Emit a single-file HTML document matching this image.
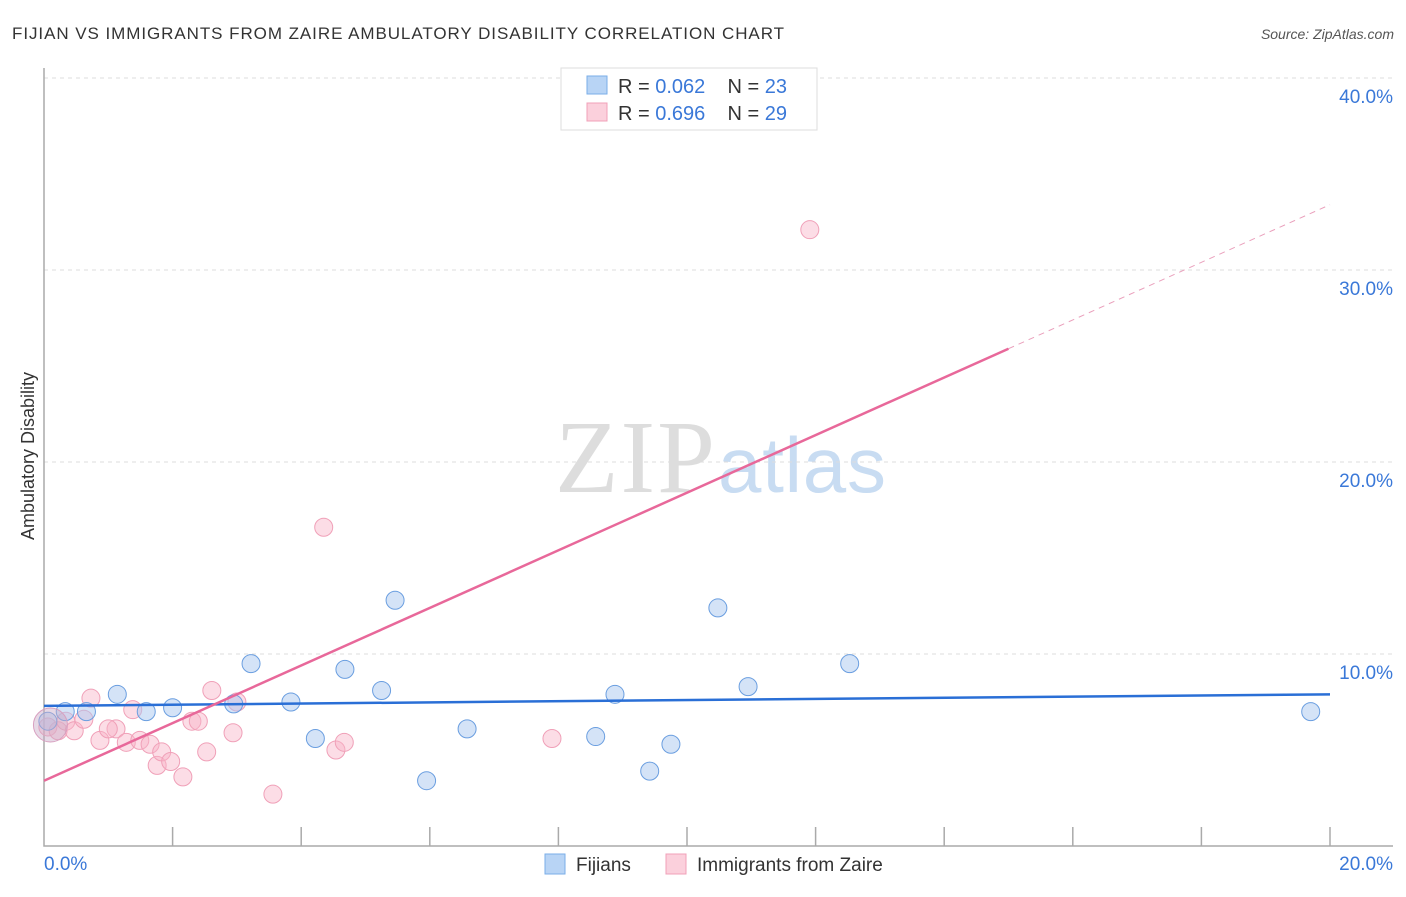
<!DOCTYPE html>
<html><head><meta charset="utf-8"><style>
body{margin:0;background:#fff;font-family:"Liberation Sans",sans-serif}
svg text{font-family:"Liberation Sans",sans-serif}
</style></head><body>
<svg width="1406" height="892" xmlns="http://www.w3.org/2000/svg">
<text x="12" y="39" font-size="17" fill="#333" textLength="772">FIJIAN VS IMMIGRANTS FROM ZAIRE AMBULATORY DISABILITY CORRELATION CHART</text>
<text x="1394" y="39" font-size="14" fill="#555" font-style="italic" text-anchor="end">Source: ZipAtlas.com</text>
<text x="555" y="492" font-size="104" fill="#ddd" textLength="160" style="font-family:'Liberation Serif',serif">ZIP</text>
<text x="718" y="492" font-size="78" fill="#c8dcf2" textLength="168">atlas</text>
<g id="grid"></g>
<g id="axes"></g>
<g id="marks"></g>
<text transform="translate(34,456) rotate(-90)" font-size="18" fill="#333" text-anchor="middle">Ambulatory Disability</text>
<g>
<rect x="561" y="68" width="256" height="62" fill="#fff" stroke="#ddd"/>
<rect x="587" y="76" width="20" height="18" fill="#b8d4f5" stroke="#7aaee8"/>
<text x="618" y="93" font-size="20" fill="#333" xml:space="preserve">R = <tspan fill="#3a78d8">0.062</tspan>    N = <tspan fill="#3a78d8">23</tspan></text>
<rect x="587" y="103" width="20" height="18" fill="#fbd0dc" stroke="#f0a0b8"/>
<text x="618" y="120" font-size="20" fill="#333" xml:space="preserve">R = <tspan fill="#3a78d8">0.696</tspan>    N = <tspan fill="#3a78d8">29</tspan></text>
</g>
<g>
<rect x="545" y="854" width="20" height="20" fill="#b8d4f5" stroke="#7aaee8"/>
<text x="576" y="871" font-size="19" fill="#333">Fijians</text>
<rect x="666" y="854" width="20" height="20" fill="#fbd0dc" stroke="#f0a0b8"/>
<text x="697" y="871" font-size="19" fill="#333">Immigrants from Zaire</text>
</g>
</svg>
<script>
const yTicks=[10,20,30,40];
const yTickLabels=["10.0%","20.0%","30.0%","40.0%"];
const xTickCount=10;
const blueX=[0.06,0.66,1.14,1.59,2.0,2.95,3.22,3.84,4.22,4.68,5.25,5.46,5.95,6.58,8.58,8.88,9.42,9.75,10.48,10.95,12.53,19.7,0.33];
const blueY=[6.5,7.0,7.9,7.0,7.2,7.4,9.5,7.5,5.6,9.2,8.1,12.8,3.4,6.1,5.7,7.9,3.9,5.3,12.4,8.3,9.5,7.0,7.0];
const pinkX=[0.06,0.22,0.34,0.47,0.62,0.73,0.87,1.12,1.28,1.38,1.49,1.65,1.76,1.83,1.97,2.16,2.3,2.4,2.53,2.61,2.94,3.0,3.56,4.35,4.54,4.67,7.9,11.91,1.0];
const pinkY=[6.2,6.0,6.5,6.0,6.6,7.7,5.5,6.1,5.4,7.1,5.5,5.3,4.2,4.9,4.4,3.6,6.5,6.5,4.9,8.1,5.9,7.5,2.7,16.6,5.0,5.4,5.6,32.1,6.1];
const blueLine=[[0,7.3],[20,7.9]];
const pinkLine=[[0,3.4],[15.0,25.9]];
const pinkDash=[[15.0,25.9],[20,33.4]];
const X=v=>44+v*64.3, Y=v=>846-v*19.2;
const NS="http://www.w3.org/2000/svg";
function mk(t,a,p){const e=document.createElementNS(NS,t);for(const k in a)e.setAttribute(k,a[k]);p.appendChild(e);return e;}
const grid=document.getElementById('grid'),axes=document.getElementById('axes'),marks=document.getElementById('marks');
yTicks.forEach((t,i)=>{
 const l=mk('line',{x1:44,x2:1393,y1:Y(t),y2:Y(t),stroke:'#ddd','stroke-dasharray':'4,4'},grid);
 
 
 const tx=mk('text',{x:1393,y:Y(t)+25,'font-size':19,fill:'#3a78d8','text-anchor':'end'},axes);
 tx.textContent=yTickLabels[i];
 
 
});
const ax=mk('path',{d:`M44,68 V${Y(0)} H1393`,fill:'none',stroke:'#aaa','stroke-width':1.5},axes);


for(let i=1;i<=xTickCount;i++){
 const t=mk('line',{x1:X(i*2),x2:X(i*2),y1:Y(0)-19,y2:Y(0),stroke:'#aaa','stroke-width':1.5},axes);
 
 
}
[["0.0%",44,'start'],["20.0%",1393,'end']].forEach(a=>{
 const t=mk('text',{x:a[1],y:870,'font-size':19,fill:'#3a78d8','text-anchor':a[2]},axes);
 t.textContent=a[0];
 
 
});
pinkX.forEach((v,i)=>{
 const c=mk('circle',{cx:X(v),cy:Y(pinkY[i]),r:9,fill:'rgba(248,180,200,0.45)',stroke:'#f0a0b8','stroke-width':1},marks);
 
 
});
blueX.forEach((v,i)=>{
 const c=mk('circle',{cx:X(v),cy:Y(blueY[i]),r:9,fill:'rgba(170,200,240,0.5)',stroke:'#6a9ee0','stroke-width':1},marks);
 
 
});
const big=mk('circle',{cx:X(0.1),cy:Y(6.3),r:17,fill:'rgba(200,170,200,0.45)',stroke:'#d8a0c0'},marks);


function ln(p,st,name,dash,w){
 const l=mk('line',{x1:X(p[0][0]),y1:Y(p[0][1]),x2:X(p[1][0]),y2:Y(p[1][1]),stroke:st,'stroke-width':w},marks);
 if(dash)l.setAttribute('stroke-dasharray',dash);
 
 
}
ln(blueLine,'#2a6fd6','fijian-trend-line',null,2.5);
ln(pinkLine,'#e8689a','zaire-trend-line',null,2.5);
ln(pinkDash,'#eaa0bc','zaire-trend-extension','6,5',1);
</script>
</body></html>
